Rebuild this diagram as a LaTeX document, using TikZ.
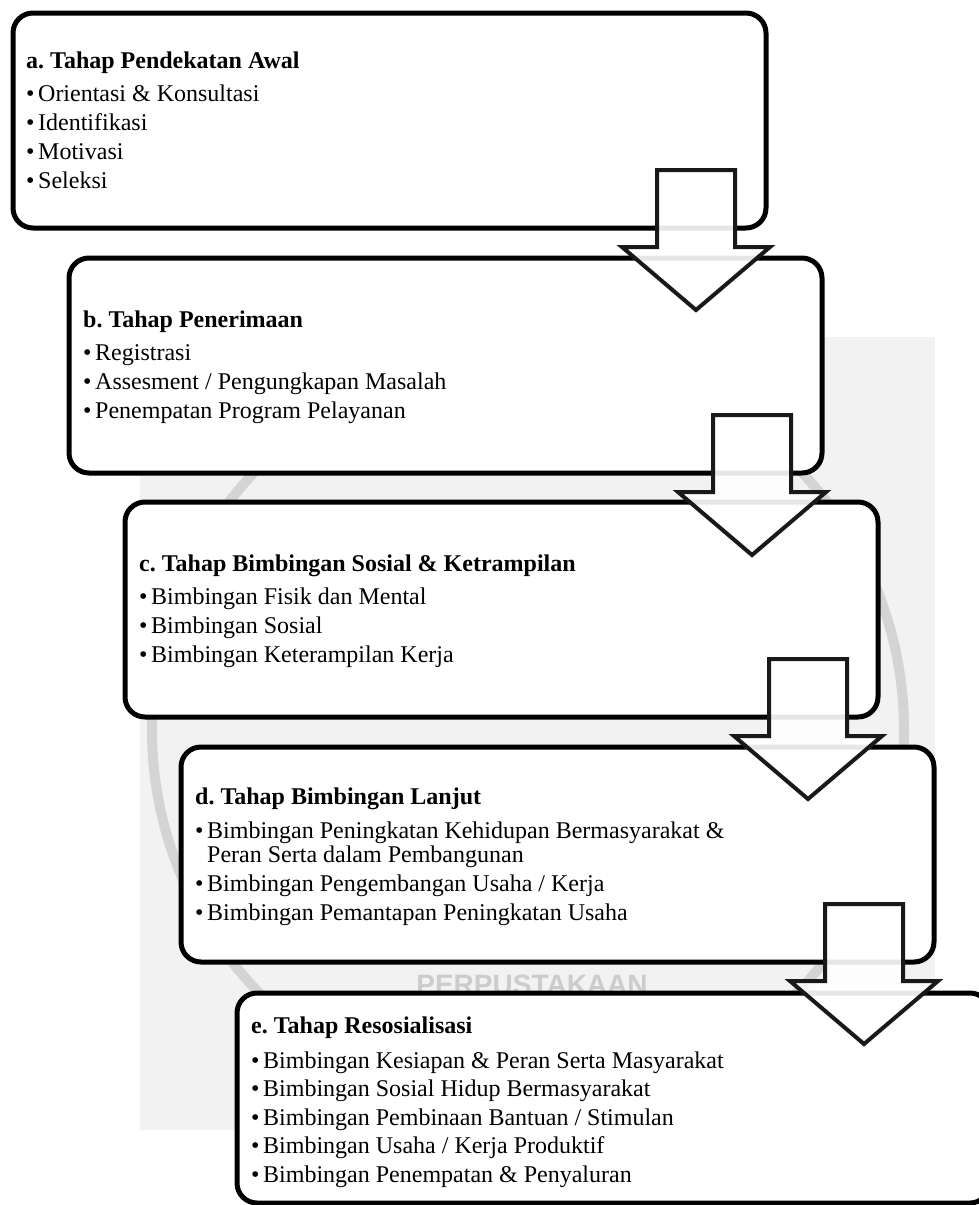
\documentclass[tikz,border=0pt]{standalone}
\usepackage{fontspec}
\setmainfont{Liberation Serif}
\setsansfont{Liberation Sans}
\usetikzlibrary{calc}
\definecolor{wmback}{HTML}{F2F2F2}
\definecolor{wmline}{HTML}{D4D4D4}
\definecolor{wmword}{HTML}{CCCCCC}
\frenchspacing
\begin{document}
\begin{tikzpicture}[x=1pt,y=-1pt,
  stage/.style={draw=black, line width=5pt, rounded corners=20pt, fill=white,
    outer sep=0pt, inner sep=0pt, minimum width=753pt, minimum height=215pt, anchor=north west},
  flow/.style={draw=black!90, line width=4pt, fill=white, fill opacity=0.9, line join=miter, miter limit=10},
  ttl/.style={anchor=base west, inner sep=0pt, font=\fontsize{24}{24}\selectfont\bfseries},
  itm/.style={anchor=base west, inner sep=0pt, font=\fontsize{24}{24}\selectfont},
  wmtext/.style={inner sep=0pt, anchor=base, text=wmword, font=\sffamily\bfseries\fontsize{28}{28}\selectfont}
]
\useasboundingbox (0,0) rectangle (979,1205);
\clip (0,0) rectangle (979,1205);
\fill[white] (0,0) rectangle (979,1205);

% watermark
\fill[wmback] (140,337) rectangle (935,1130);
\draw[wmline, line width=10pt] (528,730) circle[radius=376];
\node[wmtext] (wm) at (532,994) {PERPUSTAKAAN};

% stage boxes
\node[stage] (A) at (13,13) {};
\node[stage] (B) at (69,258) {};
\node[stage] (C) at (125,502) {};
\node[stage] (D) at (181,747) {};
\node[stage, minimum height=210pt] (E) at (237,993) {};

% texts a
\node[ttl] (At) at (26,68) {a. Tahap Pendekatan Awal};
\node[itm] (A1) at (26,101) {\makebox[12pt][l]{\textbullet}Orientasi \& Konsultasi};
\node[itm] (A2) at (26,130) {\makebox[12pt][l]{\textbullet}Identifikasi};
\node[itm] (A3) at (26,159) {\makebox[12pt][l]{\textbullet}Motivasi};
\node[itm] (A4) at (26,188) {\makebox[12pt][l]{\textbullet}Seleksi};

% texts b
\node[ttl] (Bt) at (83,327) {b. Tahap Penerimaan};
\node[itm] (B1) at (83,360) {\makebox[12pt][l]{\textbullet}Registrasi};
\node[itm] (B2) at (83,389) {\makebox[12pt][l]{\textbullet}Assesment / Pengungkapan Masalah};
\node[itm] (B3) at (83,418) {\makebox[12pt][l]{\textbullet}Penempatan Program Pelayanan};

% texts c
\node[ttl] (Ct) at (139,571) {c. Tahap Bimbingan Sosial \& Ketrampilan};
\node[itm] (C1) at (139,604) {\makebox[12pt][l]{\textbullet}Bimbingan Fisik dan Mental};
\node[itm] (C2) at (139,633) {\makebox[12pt][l]{\textbullet}Bimbingan Sosial};
\node[itm] (C3) at (139,662) {\makebox[12pt][l]{\textbullet}Bimbingan Keterampilan Kerja};

% texts d
\node[ttl] (Dt) at (195,804) {d. Tahap Bimbingan Lanjut};
\node[itm] (D1) at (195,838) {\makebox[12pt][l]{\textbullet}Bimbingan Peningkatan Kehidupan Bermasyarakat \&};
\node[itm] (D1b) at (207,862) {Peran Serta dalam Pembangunan};
\node[itm] (D2) at (195,891) {\makebox[12pt][l]{\textbullet}Bimbingan Pengembangan Usaha / Kerja};
\node[itm] (D3) at (195,920) {\makebox[12pt][l]{\textbullet}Bimbingan Pemantapan Peningkatan Usaha};

% texts e
\node[ttl] (Et) at (251,1033) {e. Tahap Resosialisasi};
\node[itm] (E1) at (251,1068) {\makebox[12pt][l]{\textbullet}Bimbingan Kesiapan \& Peran Serta Masyarakat};
\node[itm] (E2) at (251,1096.5) {\makebox[12pt][l]{\textbullet}Bimbingan Sosial Hidup Bermasyarakat};
\node[itm] (E3) at (251,1125) {\makebox[12pt][l]{\textbullet}Bimbingan Pembinaan Bantuan / Stimulan};
\node[itm] (E4) at (251,1153.5) {\makebox[12pt][l]{\textbullet}Bimbingan Usaha / Kerja Produktif};
\node[itm] (E5) at (251,1182) {\makebox[12pt][l]{\textbullet}Bimbingan Penempatan \& Penyaluran};

% block arrows from each box to the next
\foreach \s in {A,B,C,D}{
  \coordinate (\s arr) at ($(\s.north east)+(-70,157)$);
  \draw[flow] ($(\s arr)+(-39,0)$) -- ($(\s arr)+(39,0)$) -- ($(\s arr)+(39,77)$)
    -- ($(\s arr)+(74,77)$) -- ($(\s arr)+(0,140)$) -- ($(\s arr)+(-74,77)$)
    -- ($(\s arr)+(-39,77)$) -- cycle;
}
\end{tikzpicture}
\end{document}
